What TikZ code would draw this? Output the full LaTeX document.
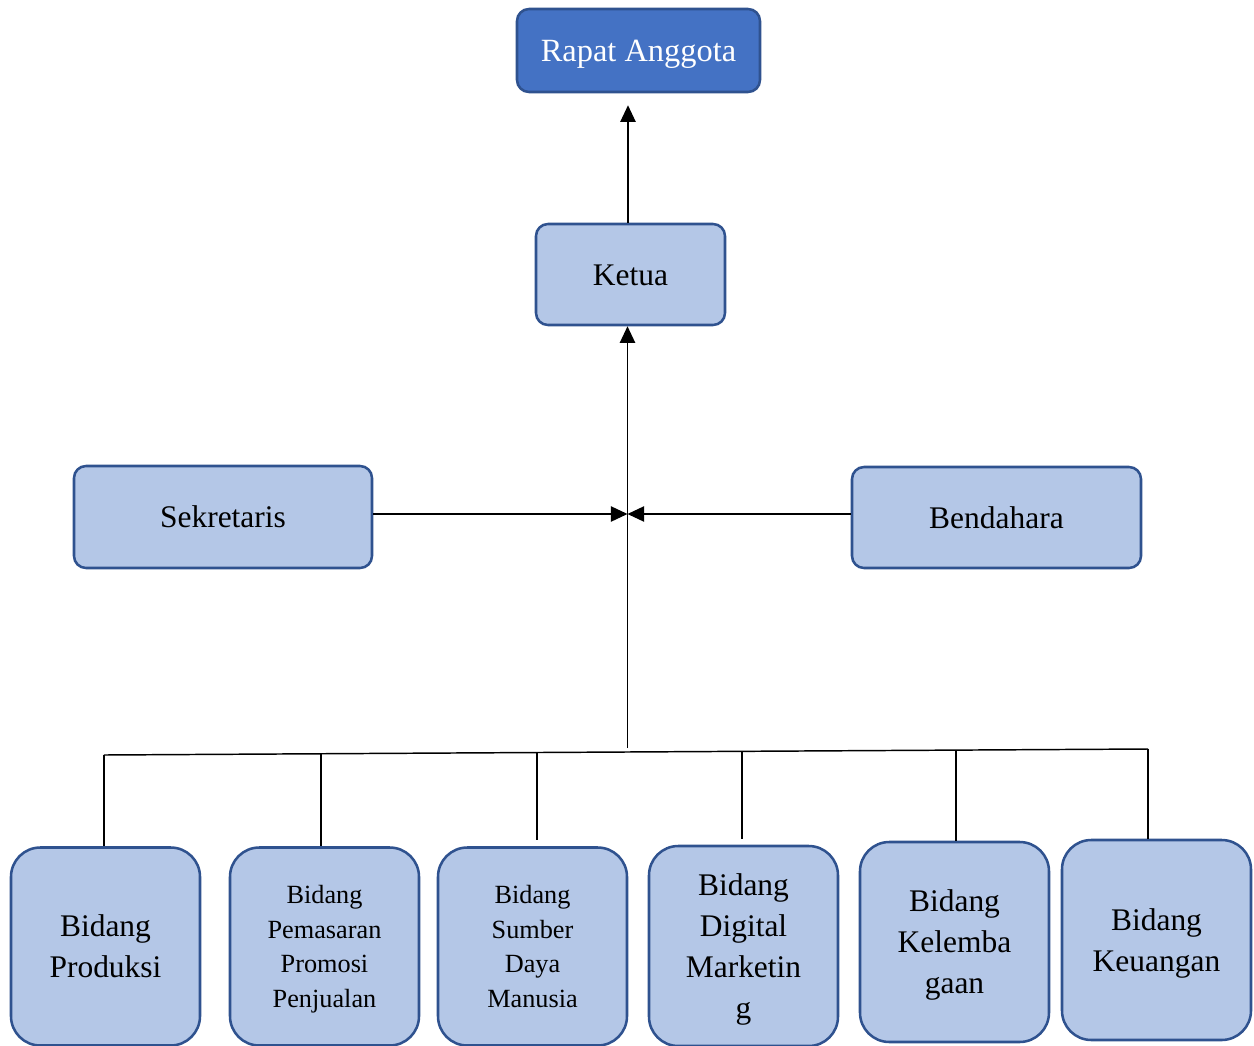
\documentclass[tikz,border=0pt]{standalone}
\usepackage{fontspec}
\setmainfont{Liberation Serif}
\usetikzlibrary{arrows.meta}
\definecolor{lightbox}{HTML}{B4C7E7}
\definecolor{darkbox}{HTML}{4472C4}
\definecolor{boxline}{HTML}{2F528F}
\tikzset{
  box/.style={draw=boxline, line width=1.9pt, fill=lightbox, rounded corners=9pt, align=center, inner sep=0pt,
    text depth=0pt, font=\fontsize{23.6}{30.75}\selectfont},
  topbox/.style={box, fill=darkbox, text=white, font=\fontsize{24.3}{30}\selectfont},
  unit/.style={box, rounded corners=22pt, minimum width=141.75pt},
  smalltext/.style={font=\fontsize{19.7}{25.9}\selectfont},
  conn/.style={line width=1.1pt},
  arr/.style={conn, -{Triangle[length=12.5pt,width=11.5pt]}}
}
\begin{document}
\begin{tikzpicture}[x=0.75pt,y=-0.75pt]
\useasboundingbox (0,0) rectangle (1254,1046);
\node[topbox, minimum width=182.25pt, minimum height=62.25pt] (ra) at (638.5,50.5) {Rapat Anggota};
\node[box, minimum width=141.75pt, minimum height=75.75pt] (ke) at (630.5,274.5) {\raisebox{-1.5pt}{Ketua}};
\node[box, minimum width=223.5pt, minimum height=76.5pt] (se) at (223,517) {Sekretaris};
\node[box, minimum width=216.75pt, minimum height=75.75pt] (be) at (996.5,517.5) {Bendahara};
\node[unit, minimum height=148.5pt] (b1) at (105.5,946.5) {Bidang\\Produksi};
\node[unit, smalltext, minimum height=148.5pt] (b2) at (324.5,946.5) {Bidang\\Pemasaran\\Promosi\\Penjualan};
\node[unit, smalltext, minimum height=148.5pt] (b3) at (532.5,946.5) {Bidang\\Sumber\\Daya\\Manusia};
\node[unit, minimum height=150pt] (b4) at (743.5,946) {Bidang\\Digital\\Marketin\\g};
\node[unit, minimum height=150pt] (b5) at (954.5,942) {Bidang\\Kelemba\\gaan};
\node[unit, minimum height=150pt] (b6) at (1156.5,940) {Bidang\\Keuangan};
% junction and bus
\coordinate (j) at (627.5,514);
\coordinate (bus) at (627.5,748);
\coordinate (ax) at (628,200);
\coordinate (bl) at (104,755);
\coordinate (br) at (1148,749);
\coordinate (t2) at (321,753.8);
\coordinate (t3) at (537,752.5);
\coordinate (t4) at (742,751.3);
\coordinate (t5) at (956,750.1);
\draw[arr, shorten >=9pt] (ke.north -| ax) -- (ra.south -| ax);
\draw[arr] (bus) -- (ke.south -| bus);
\draw[arr] (se.east |- j) -- (j);
\draw[arr] (be.west |- j) -- (j);
\draw[conn] (bl) -- (br);
\draw[conn] (bl) -- (bl |- b1.north);
\draw[conn] (t2) -- (t2 |- b2.north);
\draw[conn, shorten >=5pt] (t3) -- (t3 |- b3.north);
\draw[conn, shorten >=4pt] (t4) -- (t4 |- b4.north);
\draw[conn] (t5) -- (t5 |- b5.north);
\draw[conn] (br) -- (br |- b6.north);
\end{tikzpicture}
\end{document}
